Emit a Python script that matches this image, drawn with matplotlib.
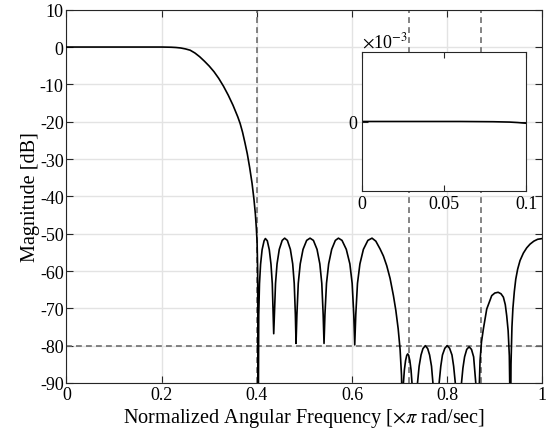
import matplotlib
matplotlib.use("Agg")
import matplotlib.pyplot as plt

plt.rcParams['font.family'] = ['Liberation Serif', 'DejaVu Serif']
plt.rcParams['axes.unicode_minus'] = False
plt.rcParams['mathtext.fontset'] = 'stix'

# magnitude response (normalized freq, dB)
freq = [0.0, 0.05, 0.10, 0.15, 0.20, 0.22, 0.23, 0.24, 0.25, 0.26, 0.27, 0.28,
        0.29, 0.30, 0.31, 0.32, 0.33, 0.34, 0.35, 0.36, 0.365, 0.37, 0.375, 0.38,
        0.385, 0.39, 0.394, 0.397, 0.399, 0.4005, 0.4018, 0.403,
        # lobe 1
        0.404, 0.4056, 0.4079, 0.4111, 0.4153, 0.4180, 0.4220, 0.4262, 0.4298, 0.4325, 0.4343, 0.4355,
        # lobe 2
        0.4369, 0.4393, 0.4425, 0.4472, 0.4533, 0.4585, 0.4642, 0.4705, 0.4754, 0.4786, 0.4810, 0.4824,
        # lobe 3
        0.4842, 0.4871, 0.4912, 0.4971, 0.5047, 0.5118, 0.5189, 0.5265, 0.5324, 0.5365, 0.5394, 0.5412,
        # lobe 4
        0.5431, 0.5464, 0.5509, 0.5573, 0.5650, 0.5715, 0.5790, 0.5880, 0.5955, 0.6003, 0.6037, 0.6057,
        # lobe 5
        0.6079, 0.6115, 0.6166, 0.6239, 0.6333, 0.642, 0.650, 0.659, 0.666, 0.673, 0.680,
        0.687, 0.692, 0.697, 0.701, 0.704, 0.7065,
        # lobe 6
        0.708, 0.710, 0.7125, 0.715, 0.717, 0.719, 0.7215, 0.724, 0.726, 0.732,
        # lobe 7
        0.7376, 0.741, 0.745, 0.749, 0.754, 0.759, 0.763, 0.767, 0.770, 0.7765,
        # lobe 8
        0.783, 0.7865, 0.790, 0.795, 0.800, 0.805, 0.810, 0.8135, 0.817, 0.8235,
        # lobe 9
        0.830, 0.833, 0.8365, 0.841, 0.846, 0.851, 0.8555, 0.8575, 0.860, 0.864,
        # lobe 10
        0.8675, 0.869, 0.872, 0.876, 0.883, 0.8935, 0.900, 0.907, 0.913, 0.918, 0.922,
        0.925, 0.928, 0.9305, 0.933,
        # last lobe
        0.934, 0.936, 0.938, 0.941, 0.944, 0.948, 0.953, 0.960, 0.967, 0.974, 0.982, 0.990, 1.0]
mag_db = [0.0, 0.0, 0.0, 0.0, 0.0, -0.05, -0.12, -0.25, -0.5, -0.85, -1.6, -2.6,
          -3.8, -5.1, -6.6, -8.4, -10.5, -12.9, -15.6, -18.7, -20.5, -22.8, -25.6, -28.6,
          -32.3, -36.5, -40.8, -44.8, -48.5, -52.0, -60.0, -105.0,
          -71.8, -63.4, -58.2, -54.3, -51.9, -51.3, -51.9, -54.3, -58.2, -63.4, -71.8, -76.8,
          -71.7, -63.3, -58.1, -54.2, -51.8, -51.2, -51.8, -54.2, -58.1, -63.3, -71.7, -79.4,
          -71.7, -63.3, -58.1, -54.2, -51.8, -51.2, -51.8, -54.2, -58.1, -63.3, -71.7, -79.4,
          -71.7, -63.3, -58.1, -54.2, -51.8, -51.2, -51.8, -54.2, -58.1, -63.3, -71.7, -79.8,
          -71.7, -63.3, -58.1, -54.2, -51.8, -51.2, -52.0, -54.1, -56.0, -58.6, -62.0,
          -66.6, -70.5, -75.5, -81.0, -88.0, -105.0,
          -90.0, -86.5, -84.0, -82.6, -82.2, -82.6, -84.0, -86.5, -90.0, -105.0,
          -90.0, -85.5, -82.5, -80.8, -80.0, -80.8, -82.5, -85.5, -90.0, -105.0,
          -90.0, -85.5, -82.5, -80.7, -80.0, -80.7, -82.5, -85.5, -90.0, -105.0,
          -90.0, -86.0, -83.0, -81.0, -80.3, -81.0, -83.0, -86.0, -90.0, -105.0,
          -90.0, -84.0, -79.0, -75.5, -70.2, -66.6, -65.9, -65.7, -66.1, -67.0, -69.0,
          -72.0, -76.0, -82.7, -105.0,
          -85.0, -75.0, -70.0, -65.5, -62.2, -59.5, -57.2, -55.2, -53.8, -52.8, -52.0, -51.5, -51.3]

# passband zoom (x10^-3 dB)
inset_freq = [0.0, 0.02, 0.04, 0.06, 0.08, 0.09, 0.095, 0.1]
inset_db = [0.0, 0.0, 0.0, 0.0, -0.004, -0.01, -0.018, -0.03]

spec_freq = [0.4, 0.72, 0.87]
spec_db = -80

fig = plt.figure(figsize=(5.48, 4.39), dpi=100)
ax = fig.add_axes([0.1212, 0.1253, 0.8686, 0.8503])

ax.plot(freq, mag_db, color='black', lw=1.2, zorder=3)
for f in spec_freq:
    ax.axvline(f, color='#6e6e6e', ls=(0, (3.5, 2.5)), lw=1.2, zorder=2)
ax.axhline(spec_db, color='#6e6e6e', ls=(0, (3.5, 2.5)), lw=1.2, zorder=2)

ax.set_xlim(0, 1)
ax.set_ylim(-90, 10)
ax.set_xticks([0, 0.2, 0.4, 0.6, 0.8, 1])
ax.set_xticklabels(['0', '0.2', '0.4', '0.6', '0.8', '1'])
ax.set_yticks(range(-90, 11, 10))
ax.grid(True, color='#e3e3e3', lw=1.0)
ax.set_axisbelow(True)
ax.tick_params(direction='in', length=5, top=True, right=True, labelsize=13,
               color='#262626', pad=2)
for s in ax.spines.values():
    s.set_color('#262626')
    s.set_linewidth(0.8)
ax.set_xlabel(r'Normalized Angular Frequency [$\times\pi$ rad/sec]', fontsize=14.6, labelpad=2)
ax.set_ylabel('Magnitude [dB]', fontsize=14.6, labelpad=0)

# inset
axi = fig.add_axes([0.660, 0.5633, 0.300, 0.3153])
axi.set_facecolor('white')
axi.plot(inset_freq, inset_db, color='black', lw=1.2)
axi.set_xlim(0, 0.1)
axi.set_ylim(-1.2, 1.2)
axi.set_xticks([0, 0.05, 0.1])
axi.set_xticklabels(['0', '0.05', '0.1'])
axi.set_yticks([0])
axi.set_yticklabels(['0'])
axi.tick_params(direction='in', length=4, top=True, right=True, labelsize=13,
                color='#262626', pad=3)
for s in axi.spines.values():
    s.set_color('#262626')
    s.set_linewidth(0.8)
axi.text(0.0, 1.01, r'$\times$10$^{-3}$', transform=axi.transAxes, fontsize=13,
         ha='left', va='bottom')

fig.savefig('out.png', dpi=100)
